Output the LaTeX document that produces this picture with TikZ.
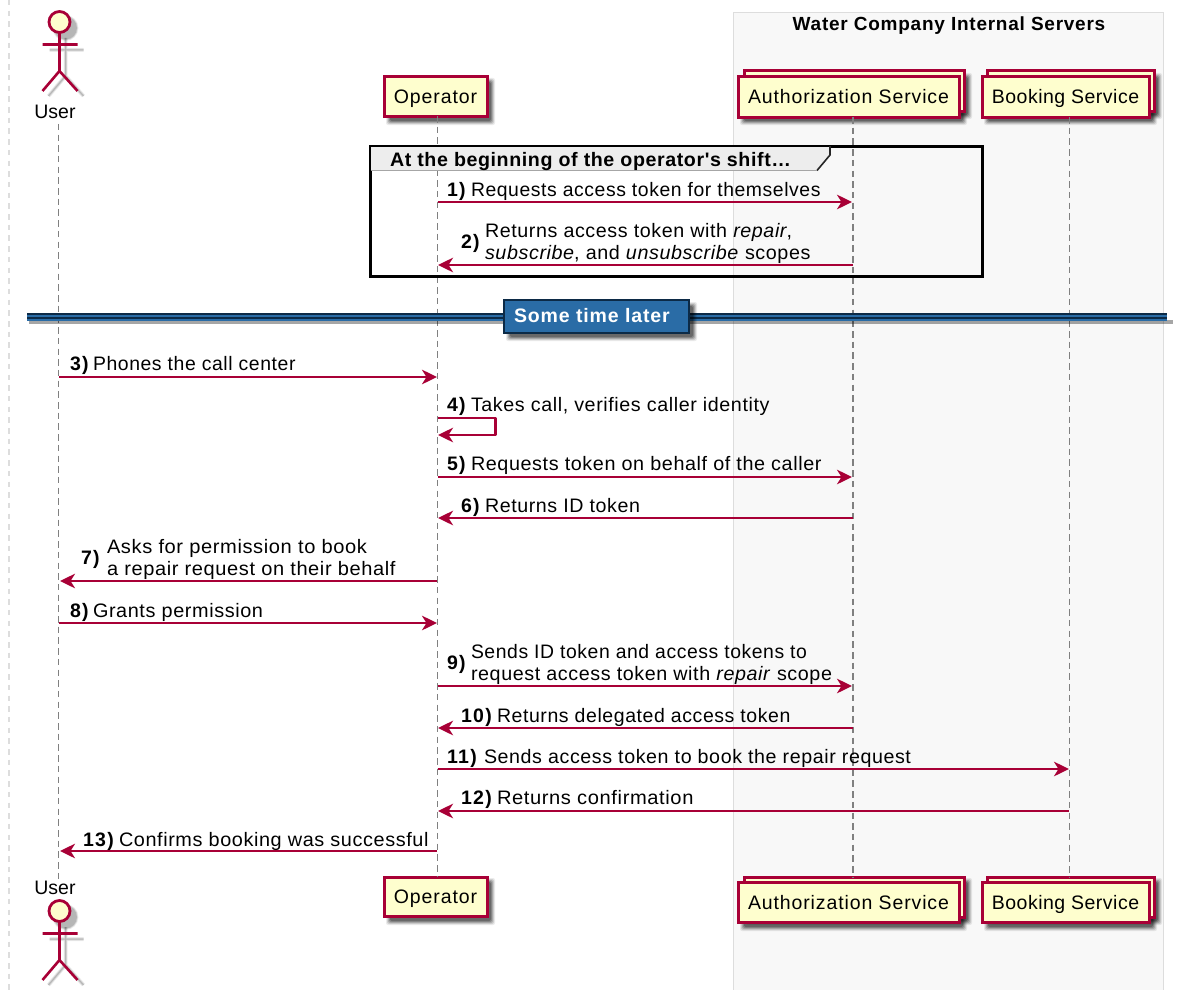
\documentclass[tikz,border=0pt]{standalone}
\usepackage{fontspec}
\setmainfont{Liberation Sans}
\newfontfamily\plainfont{Liberation Sans}
\newfontfamily\msgfont[LetterSpace=3]{Liberation Sans}
\newfontfamily\numfont[LetterSpace=7]{Liberation Sans}
\newfontfamily\partfont[LetterSpace=4.5]{Liberation Sans}
\newfontfamily\bookfont[LetterSpace=2.5]{Liberation Sans}
\newfontfamily\titlefont[LetterSpace=4]{Liberation Sans}
\usetikzlibrary{arrows.meta,calc}
\definecolor{umlfill}{HTML}{FEFECE}
\definecolor{umlline}{HTML}{A80036}
\definecolor{boxbg}{HTML}{F8F8F8}
\definecolor{boxedge}{HTML}{DDDDDD}
\definecolor{dividerblue}{HTML}{2A6CA6}
\definecolor{dividerdark}{HTML}{0C2A46}
\tikzset{
  x=1pt,y=-1pt,
  every node/.style={inner sep=0pt,outer sep=0pt},
  txt/.style={anchor=base west,text=black,font=\msgfont\fontsize{19.5}{22}\selectfont},
  numlab/.style={anchor=base west,text=black,font=\numfont\fontsize{19.5}{22}\selectfont\bfseries},
  grouplab/.style={anchor=base west,text=black,font=\msgfont\fontsize{19.5}{22}\selectfont\bfseries},
  part/.style={draw=umlline,line width=3pt,fill=umlfill,text=black,minimum height=39pt,text height=14pt,text depth=1pt,font=\partfont\fontsize{19.5}{22}\selectfont,anchor=center},
  bookpart/.style={part,font=\bookfont\fontsize{19.5}{22}\selectfont},
  backbox/.style={draw=umlline,line width=3pt,fill=umlfill},
  msgline/.style={draw=umlline,line width=2.9pt,line join=round,-{Stealth[length=15pt,width=14.5pt,inset=4.5pt]}},
  lifeline/.style={draw=black!50,line width=1.7pt,dash pattern=on 6.5pt off 4.2pt},
  actorline/.style={draw=umlline,line width=2.6pt},
  headshape/.style={circle,draw=umlline,line width=2.8pt,fill=umlfill,minimum size=21pt},
  actorlabel/.style={text=black,font=\plainfont\fontsize{19.5}{22}\selectfont},
}
\newcommand{\fitw}[2]{\resizebox{#1pt}{\height}{#2}}
\newcommand{\softshadow}[4]{%
  \foreach \e/\o in {3/0.08,2/0.12,1/0.16,0/0.2,-1/0.24}{
    \fill[black,opacity=\o,rounded corners=2pt] ($(#1,#2)+(5-\e,5-\e)$) rectangle ($(#3,#4)+(5+\e,5+\e)$);
  }}
\newcommand{\actorfig}[3]{% name, centre x, head centre y
  \begin{scope}[shift={(#2,#3)}]
    \foreach \e/\o in {4/0.07,2.5/0.10,1/0.14}{
      \fill[black,opacity=\o] (6,6) circle[radius=11+\e/2];
      \draw[black,opacity=\o,line width=\e pt] (-10,28) -- (24,28) (6,16) -- (6,54) (-11,74) -- (6,54) -- (24,74);
    }
    \draw[actorline] (0,11) -- (0,49) (-17,22.5) -- (18,22.5) (-17,69) -- (0,49) -- (18,69);
    \node[headshape] (#1) at (0,0) {};
  \end{scope}}
\newcommand{\mkmsg}[4]{% id, y, from x, to x
  \coordinate (m#1s) at (#3,#2);
  \coordinate (m#1e) at (#4,#2);
  \draw[msgline] (m#1s) -- (m#1e);}
\begin{document}
\begin{tikzpicture}
\path[use as bounding box,fill=white] (0,0) rectangle (1194,990);
% page edge
\coordinate (edgeT) at (9,0);
\coordinate (edgeB) at (9,990);
\draw[draw=boxedge,line width=2.6pt,dash pattern=on 5.5pt off 5.2pt] (edgeT) -- (edgeB);
% server box
\node[draw=boxedge,line width=1.2pt,fill=boxbg,anchor=north west,minimum width=430pt,minimum height=985pt] (servers) at (733.5,12.5) {};
\node[font=\titlefont\fontsize{19}{22}\selectfont\bfseries,text=black,anchor=base] (serverstitle) at (949,30.5) {Water Company Internal Servers};
% participant shadows
\softshadow{384}{76}{487}{117}
\softshadow{384}{876}{487}{917}
\softshadow{744}{71}{964}{111}
\softshadow{738}{77}{959}{117}
\softshadow{987}{71}{1154}{111}
\softshadow{982}{77}{1149}{117}
\softshadow{744}{876}{964}{917}
\softshadow{738}{882}{959}{923}
\softshadow{987}{876}{1154}{917}
\softshadow{982}{882}{1149}{923}
% participants
\node[actorlabel] (userT) at (55,112) {User};
\node[actorlabel] (userB) at (55,888) {User};
\node[backbox,minimum width=220pt,minimum height=40pt] (authTback) at (854,91) {};
\node[backbox,minimum width=167pt,minimum height=40pt] (bookTback) at (1070.5,91) {};
\node[backbox,minimum width=220pt,minimum height=40pt] (authBback) at (854,897) {};
\node[backbox,minimum width=167pt,minimum height=40pt] (bookBback) at (1070.5,897) {};
\node[part,minimum width=103pt] (opT) at (435.5,96.5) {Operator};
\node[part,minimum width=103pt] (opB) at (435.5,896.5) {Operator};
\node[part,minimum width=221pt,minimum height=40pt] (authT) at (848.5,97) {Authorization Service};
\node[bookpart,minimum width=167pt,minimum height=40pt] (bookT) at (1065.5,97) {Booking Service};
\node[part,minimum width=221pt,minimum height=40pt] (authB) at (848.5,902.5) {Authorization Service};
\node[bookpart,minimum width=167pt,minimum height=40pt] (bookB) at (1065.5,902.5) {Booking Service};
% lifelines
\draw[lifeline] ([shift={(3.5,5)}]userT.south) -- ([xshift=3.5pt]userB.north);
\draw[lifeline] ([xshift=2pt]opT.south) -- ([xshift=2pt]opB.north);
\draw[lifeline] ([xshift=4.5pt]authT.south) -- ([xshift=-1pt]authBback.north);
\draw[lifeline] ([xshift=4pt]bookT.south) -- ([xshift=-1pt]bookBback.north);
% actors
\actorfig{userThead}{59.5}{22}
\actorfig{userBhead}{59.5}{911}
% group frame
\node[draw=black,line width=3pt,anchor=north west,minimum width=612pt,minimum height=130pt] (grp) at (370,146) {};
\fill[fill=black!7] (371,147) -- (830,147) -- (830,155) -- (817,170.5) -- (371,170.5) -- cycle;
\draw[black!85,line width=1.6pt] (830,146) -- (830,155) -- (817,170.5);
\draw[black!35,line width=1pt] (371,170.5) -- (817,170.5);
\node[grouplab] (grptitle) at (390,166) {\fitw{401}{At the beginning of the operator's shift…}};
% divider
\fill[black,opacity=.35] (29,320) rectangle (1173,323.5);
\fill[dividerblue] (27,313) rectangle (1167,321);
\draw[dividerdark,line width=1.4pt] (27,314) -- (1167,314) (27,318) -- (1167,318);
\softshadow{504}{300}{689}{333}
\node[draw=dividerdark,line width=2.6pt,fill=dividerblue,text=white,minimum width=185pt,minimum height=33pt,anchor=north west] (later) at (504,300) {};
\node[font=\partfont\fontsize{19.5}{22}\selectfont\bfseries,text=white,anchor=base west] (latertext) at (514,322.5) {Some time later};
% messages
\mkmsg{1}{202}{437.5}{852}
\mkmsg{2}{265}{853}{438}
\mkmsg{3}{377}{59}{437}
\coordinate (m4s) at (437.5,418);
\coordinate (m4a) at (495.5,418);
\coordinate (m4b) at (495.5,435);
\coordinate (m4e) at (438,435);
\draw[msgline] (m4s) -- (m4a) -- (m4b) -- (m4e);
\mkmsg{5}{477}{437.5}{852}
\mkmsg{6}{518}{853}{438}
\mkmsg{7}{581}{437}{60}
\mkmsg{8}{623}{59}{437}
\mkmsg{9}{686}{437.5}{852}
\mkmsg{10}{728}{853}{438}
\mkmsg{11}{769}{437.5}{1069}
\mkmsg{12}{811}{1069}{438}
\mkmsg{13}{851}{437}{60}
% labels
\node[numlab] (n1) at (447,196) {1)};
\node[txt] (t1) at (471,196) {\fitw{349.5}{Requests access token for themselves}};
\node[numlab] (n2) at (461,248) {2)};
\node[txt] (t2a) at (485,237) {\fitw{307}{Returns access token with \textit{repair},}};
\node[txt] (t2b) at (485,259) {\fitw{325.5}{\textit{subscribe}, and \textit{unsubscribe} scopes}};
\node[numlab] (n3) at (70,370) {3)};
\node[txt] (t3) at (93,370) {\fitw{202.5}{Phones the call center}};
\node[numlab] (n4) at (447,411.5) {4)};
\node[txt] (t4) at (471,411.5) {\fitw{298.5}{Takes call, verifies caller identity}};
\node[numlab] (n5) at (447,470) {5)};
\node[txt] (t5) at (471,470) {\fitw{350.5}{Requests token on behalf of the caller}};
\node[numlab] (n6) at (461,512) {6)};
\node[txt] (t6) at (485,512) {\fitw{155}{Returns ID token}};
\node[numlab] (n7) at (81,564) {7)};
\node[txt] (t7a) at (107,553) {\fitw{260}{Asks for permission to book}};
\node[txt] (t7b) at (107,575) {\fitw{288.5}{a repair request on their behalf}};
\node[numlab] (n8) at (70,617) {8)};
\node[txt] (t8) at (93,617) {\fitw{170}{Grants permission}};
\node[numlab] (n9) at (447,669) {9)};
\node[txt] (t9a) at (471,658) {\fitw{336}{Sends ID token and access tokens to}};
\node[txt] (t9b) at (471,680) {\fitw{361}{request access token with \textit{repair} scope}};
\node[numlab] (n10) at (461,722) {10)};
\node[txt] (t10) at (497,722) {\fitw{293.5}{Returns delegated access token}};
\node[numlab] (n11) at (447,763) {11)};
\node[txt] (t11) at (484,763) {\fitw{427}{Sends access token to book the repair request}};
\node[numlab] (n12) at (461,804) {12)};
\node[txt] (t12) at (497,804) {\fitw{196.5}{Returns confirmation}};
\node[numlab] (n13) at (83,846) {13)};
\node[txt] (t13) at (119,846) {\fitw{309.5}{Confirms booking was successful}};
\end{tikzpicture}
\end{document}
